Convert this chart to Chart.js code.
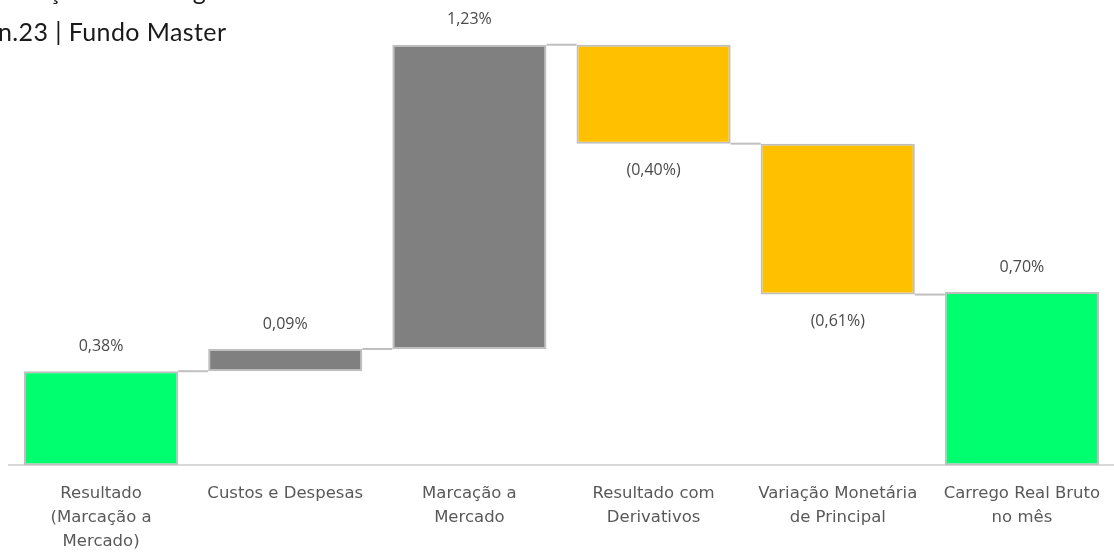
<!DOCTYPE html>
<html>
<head>
<meta charset="utf-8">
<script src="https://cdn.jsdelivr.net/npm/chart.js@4/dist/chart.umd.min.js"></script>
<style>
  body { margin: 0; background: #fff; overflow: hidden; }
  #wrap { position: relative; width: 1114px; height: 554px; }
  .titulo { position: absolute; white-space: nowrap; font-family: Lato, sans-serif; color: #1a1a1a; font-size: 25px; letter-spacing: 0.4px; }
</style>
</head>
<body>
<div id="wrap">
  <canvas id="graficoCarrego"></canvas>
  <div class="titulo" style="left:-14px; top:-25px;">Evolução do Carrego Real no Mês</div>
  <div class="titulo" style="left:-27px; top:16px;">Jun.23 | Fundo Master</div>
</div>
<script>
// categorias e variações (% no mês)
const categorias = [
    ['Resultado', '(Marcação a', 'Mercado)'],
    'Custos e Despesas',
    ['Marcação a', 'Mercado'],
    ['Resultado com', 'Derivativos'],
    ['Variação Monetária', 'de Principal'],
    ['Carrego Real Bruto', 'no mês']
];
const variacoes = [0.38, 0.09, 1.23, -0.40, -0.61];
const totalMes = 0.70;
const cores = ['#00ff6e', '#808080', '#808080', '#ffc000', '#ffc000', '#00ff6e'];

// monta as barras flutuantes do waterfall
const barras = [];
let acumulado = 0;
variacoes.forEach(function(v) {
    barras.push([acumulado, acumulado + v]);
    acumulado += v;
});
barras.push([0, totalMes]);
const valores = variacoes.concat([totalMes]);

function formata(v) {
    const txt = Math.abs(v).toFixed(2).replace('.', ',') + '%';
    return v < 0 ? '(' + txt + ')' : txt;
}

// linhas de ligação entre as barras e rótulos de valor
const waterfallExtras = {
    id: 'waterfallExtras',
    afterDatasetsDraw(chart) {
        const ctx = chart.ctx;
        const meta = chart.getDatasetMeta(0);
        const y = chart.scales.y;
        ctx.save();
        ctx.strokeStyle = '#bfbfbf';
        ctx.lineWidth = 2;
        for (let i = 0; i < meta.data.length - 1; i++) {
            const a = meta.data[i], b = meta.data[i + 1];
            const nivel = y.getPixelForValue(barras[i][1]);
            ctx.beginPath();
            ctx.moveTo(a.x + a.width / 2, nivel);
            ctx.lineTo(b.x - b.width / 2, nivel);
            ctx.stroke();
        }
        ctx.fillStyle = '#4a4a4a';
        ctx.font = '16px "Open Sans"';
        ctx.textAlign = 'center';
        ctx.textBaseline = 'middle';
        meta.data.forEach(function(el, i) {
            const v = valores[i];
            const topo = y.getPixelForValue(Math.max(barras[i][0], barras[i][1]));
            const base = y.getPixelForValue(Math.min(barras[i][0], barras[i][1]));
            const py = v < 0 ? base + 27 : topo - 25;
            ctx.fillText(formata(v), el.x, py);
        });
        ctx.restore();
    }
};

new Chart(document.getElementById('graficoCarrego'), {
    type: 'bar',
    data: {
        labels: categorias,
        datasets: [{
            data: barras,
            backgroundColor: cores,
            borderColor: '#bfbfbf',
            borderWidth: 2,
            borderSkipped: false,
            barPercentage: 0.837,
            categoryPercentage: 1
        }]
    },
    options: {
        responsive: true,
        maintainAspectRatio: false,
        animation: false,
        layout: { padding: { top: 20, left: 9, right: 0, bottom: -9 } },
        scales: {
            y: { display: false, min: 0, max: 1.8 },
            x: {
                grid: { display: false },
                border: { color: '#d9d9d9', width: 2 },
                ticks: {
                    color: '#595959',
                    font: { family: 'DejaVu Sans', size: 16.5, lineHeight: 1.45 },
                    padding: 9,
                    maxRotation: 0,
                    autoSkip: false
                }
            }
        },
        plugins: {
            legend: { display: false },
            tooltip: { enabled: false }
        }
    },
    plugins: [waterfallExtras]
});
</script>
</body>
</html>
